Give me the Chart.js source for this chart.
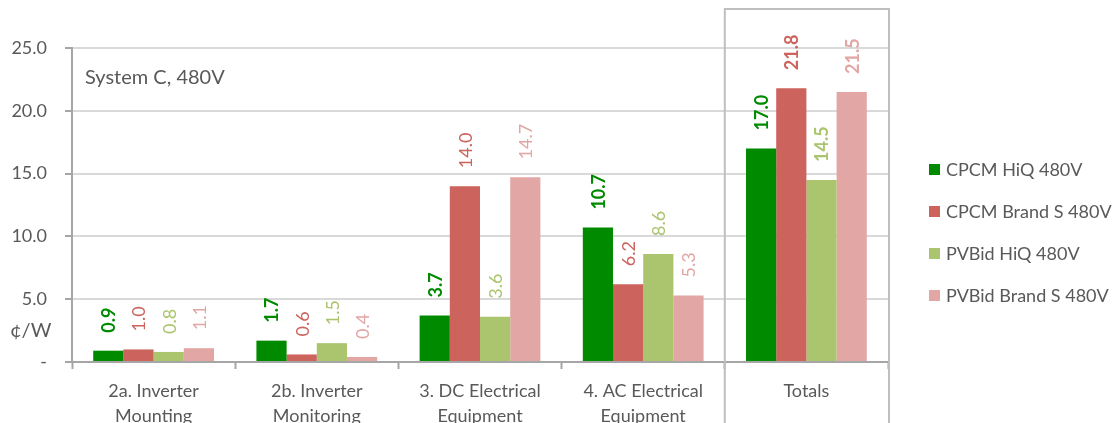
<!DOCTYPE html>
<html>
<head>
<meta charset="utf-8">
<script src="https://cdn.jsdelivr.net/npm/chart.js@4.4.1/dist/chart.umd.min.js"></script>
<style>
  html, body { margin: 0; padding: 0; background: #fff; }
  #wrap { position: relative; width: 1116px; height: 423px; }
</style>
</head>
<body>
<div id="wrap"><canvas id="myChart" width="1116" height="423"></canvas></div>
<script>
// cost breakdown, cents per watt
var categories = [
    ['2a. Inverter', 'Mounting'],
    ['2b. Inverter', 'Monitoring'],
    ['3. DC Electrical', 'Equipment'],
    ['4. AC Electrical', 'Equipment'],
    'Totals'
];
var seriesNames = ['CPCM HiQ 480V', 'CPCM Brand S 480V', 'PVBid HiQ 480V', 'PVBid Brand S 480V'];
var cpcmHiq = [0.9, 1.7, 3.7, 10.7, 17.0];
var cpcmBrandS = [1.0, 0.6, 14.0, 6.2, 21.8];
var pvbidHiq = [0.8, 1.5, 3.6, 8.6, 14.5];
var pvbidBrandS = [1.1, 0.4, 14.7, 5.3, 21.5];
var yTicks = [0, 5, 10, 15, 20, 25];

var barColors = ['#008a00', '#cc635d', '#abc46e', '#e2a6a5'];
var textColor = '#595959';
var fontFamily = 'Lato, "Open Sans", sans-serif';

var seriesValues = [cpcmHiq, cpcmBrandS, pvbidHiq, pvbidBrandS];

var datasets = seriesValues.map(function (vals, i) {
    return {
        label: seriesNames[i],
        data: vals,
        backgroundColor: barColors[i],
        borderWidth: 0,
        categoryPercentage: 0.74,
        barPercentage: 1.0
    };
});

// value labels, rotated, sitting above each bar
var valueLabels = {
    id: 'valueLabels',
    afterDatasetsDraw: function (chart) {
        var ctx = chart.ctx;
        chart.data.datasets.forEach(function (ds, di) {
            var meta = chart.getDatasetMeta(di);
            meta.data.forEach(function (bar, i) {
                var bold = di === 0 || i === categories.length - 1;
                ctx.save();
                ctx.translate(bar.x + 1, bar.y - 18);
                ctx.rotate(-Math.PI / 2);
                ctx.font = (bold ? 'bold ' : '') + '18px ' + fontFamily;
                ctx.fillStyle = ds.backgroundColor;
                ctx.textAlign = 'left';
                ctx.textBaseline = 'middle';
                ctx.fillText(ds.data[i].toFixed(1), 0, 0);
                ctx.restore();
            });
        });
    }
};

// frame round the totals column, titles and legend
var extras = {
    id: 'extras',
    afterDraw: function (chart) {
        var ctx = chart.ctx;
        var x = chart.scales.x;
        var area = chart.chartArea;
        var last = categories.length - 1;
        var half = (x.getPixelForValue(last) - x.getPixelForValue(last - 1)) / 2;
        var left = x.getPixelForValue(last) - half;

        ctx.save();
        ctx.strokeStyle = '#bfbfbf';
        ctx.lineWidth = 2;
        ctx.strokeRect(left, 9, area.right - left + 1, chart.height + 10);

        ctx.fillStyle = textColor;
        ctx.font = '20px ' + fontFamily;
        ctx.textBaseline = 'middle';
        ctx.textAlign = 'left';
        ctx.fillText('System C, 480V', 85, 78);
        ctx.fillText('¢/W', 10, 331);

        ctx.font = '18px ' + fontFamily;
        chart.data.datasets.forEach(function (ds, i) {
            var y = 170 + i * 42;
            ctx.fillStyle = ds.backgroundColor;
            ctx.fillRect(929, y - 6, 11, 11);
            ctx.fillStyle = textColor;
            ctx.fillText(ds.label, 946, y);
        });
        ctx.restore();
    }
};

new Chart(document.getElementById('myChart'), {
    type: 'bar',
    data: {
        labels: categories,
        datasets: datasets
    },
    plugins: [valueLabels, extras],
    options: {
        responsive: false,
        animation: false,
        layout: { padding: { left: 0, top: 48, right: 228, bottom: 0 } },
        plugins: {
            legend: { display: false },
            tooltip: { enabled: false }
        },
        scales: {
            x: {
                afterFit: function (s) { s.height = 61; },
                grid: {
                    drawOnChartArea: false,
                    drawTicks: true,
                    tickLength: 7,
                    tickColor: '#a6a6a6',
                    tickWidth: 2
                },
                border: { color: '#a6a6a6', width: 2 },
                ticks: {
                    color: textColor,
                    padding: 10,
                    maxRotation: 0,
                    autoSkip: false,
                    font: { family: fontFamily, size: 18, lineHeight: 1.38 }
                }
            },
            y: {
                min: 0,
                max: 25,
                afterFit: function (s) { s.width = 72; },
                afterBuildTicks: function (s) {
                    s.ticks = yTicks.map(function (v) { return { value: v }; });
                },
                grid: {
                    color: '#d9d9d9',
                    lineWidth: 2,
                    tickLength: 7,
                    tickColor: '#a6a6a6'
                },
                border: { color: '#a6a6a6', width: 2 },
                ticks: {
                    color: textColor,
                    padding: 18,
                    font: { family: fontFamily, size: 18 },
                    callback: function (v) { return v === 0 ? '-' : v.toFixed(1); }
                }
            }
        }
    }
});
</script>
</body>
</html>
